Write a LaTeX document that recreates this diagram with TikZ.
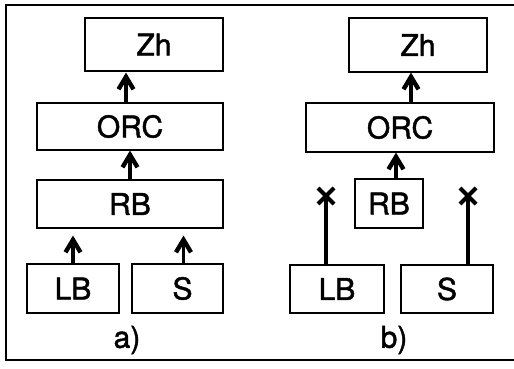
\documentclass[tikz,border=0pt]{standalone}
\usepackage{fontspec}
\newfontfamily\hv[FakeBold=1.5]{TeX Gyre Heros}
\usetikzlibrary{arrows.meta}
\begin{document}
\begin{tikzpicture}[x=1pt,y=-1pt,
  blk/.style={draw,line width=1.4pt,inner sep=0pt,font=\fontsize{30}{34}\hv},
  shaft/.style={line width=3.6pt},
  chev/.style={line width=4.4pt,line join=miter,miter limit=4},
  crs/.style={line width=4pt},
  lbl/.style={font=\fontsize{30}{34}\hv}]
\useasboundingbox (0,0) rectangle (514,369);
\draw[line width=1.4pt] (516,5) -- (6,5) -- (6,360) -- (516,360);
% panel a
\node[blk,minimum width=138,minimum height=53] (zhA) at (154,44.5) {Zh};
\node[blk,minimum width=186,minimum height=47] (orcA) at (130,126.5) {ORC};
\node[blk,minimum width=186,minimum height=48] (rbA) at (130,204) {RB};
\node[blk,minimum width=92,minimum height=49] (lbA) at (73,288.5) {LB};
\node[blk,minimum width=91,minimum height=49] (sA) at (177.5,288.5) {\hspace{10pt}S};
\node[lbl] (labA) at (127,340) {a)};
\draw[shaft] ([xshift=-4]orcA.north) -- ++(0,-24) coordinate (t1);
\draw[chev] ([shift={(-7.5,11)}]t1) -- ([yshift=1.5]t1) -- ([shift={(7.5,11)}]t1);
\draw[shaft] ([xshift=0]rbA.north) -- ++(0,-23) coordinate (t2);
\draw[chev] ([shift={(-7.5,11)}]t2) -- ([yshift=1.5]t2) -- ([shift={(7.5,11)}]t2);
\draw[shaft] (lbA.north) -- ++(0,-22) coordinate (t3);
\draw[chev] ([shift={(-7.5,11)}]t3) -- ([yshift=1.5]t3) -- ([shift={(7.5,11)}]t3);
\draw[shaft] ([xshift=6]sA.north) -- ++(0,-22) coordinate (t4);
\draw[chev] ([shift={(-7.5,11)}]t4) -- ([yshift=1.5]t4) -- ([shift={(7.5,11)}]t4);
% panel b
\node[blk,minimum width=138,minimum height=54] (zhB) at (418,45) {Zh};
\node[blk,minimum width=188,minimum height=49] (orcB) at (400,127.5) {ORC};
\node[blk,minimum width=68,minimum height=49] (rbB) at (389,203.5) {RB};
\node[blk,minimum width=94,minimum height=48] (lbB) at (337,289) {LB};
\node[blk,minimum width=92,minimum height=48] (sB) at (447,289) {S};
\node[lbl] (labB) at (394,340) {b)};
\draw[shaft] ([xshift=11]orcB.north) -- ++(0,-24) coordinate (t5);
\draw[chev] ([shift={(-7.5,11)}]t5) -- ([yshift=1.5]t5) -- ([shift={(7.5,11)}]t5);
\draw[shaft] ([xshift=7]rbB.north) -- ++(0,-20) coordinate (t6);
\draw[chev] ([shift={(-7.5,11)}]t6) -- ([yshift=1.5]t6) -- ([shift={(7.5,11)}]t6);
\coordinate (xL) at (326,197);
\coordinate (xR) at (468,197);
\draw[shaft] (lbB.north -| xL) -- (xL);
\draw[shaft] (sB.north -| xR) -- (xR);
\draw[crs] ([shift={(-8,-9)}]xL) -- ([shift={(8,7)}]xL);
\draw[crs] ([shift={(8,-9)}]xL) -- ([shift={(-8,7)}]xL);
\draw[crs] ([shift={(-8,-9)}]xR) -- ([shift={(8,7)}]xR);
\draw[crs] ([shift={(8,-9)}]xR) -- ([shift={(-8,7)}]xR);
\end{tikzpicture}
\end{document}
